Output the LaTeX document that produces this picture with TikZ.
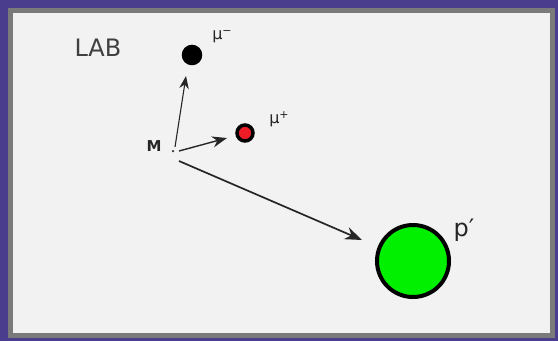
\documentclass[tikz,border=0pt]{standalone}
\usepackage{fontspec}
\setmainfont{DejaVu Sans}
\usepackage{tikz}
\usetikzlibrary{arrows.meta, positioning}

\definecolor{framepurple}{HTML}{4A3D8E}
\definecolor{framegray}{HTML}{7A7A7A}
\definecolor{paper}{HTML}{F1F2F1}
\definecolor{muplus}{HTML}{EE1C24}
\definecolor{proton}{HTML}{00F000}

\newcommand{\charge}[1]{\raisebox{0.55ex}{\fontsize{11}{11}\selectfont #1}}

\begin{document}
\begin{tikzpicture}[
    x=1pt, y=-1pt,
    font=\sffamily,
    >={Stealth[scale=1.6]},
    particle/.style={circle, draw=black, line width=3.5pt, inner sep=0pt},
    tag/.style={font=\fontsize{16}{16}\selectfont, text=black!85},
    arrow/.style={->, line width=1.4pt, black!85}
]

% Frame
\fill[framepurple] (0,0) rectangle (558,341);
\fill[framegray] (8,8) rectangle (555,338);
\fill[paper] (13,13) rectangle (550,333);
\useasboundingbox (0,0) rectangle (558,341);

% Nodes
\node[font=\fontsize{24}{24}\selectfont, text=black!75] (lab) at (98,48) {LAB};
\node[inner sep=0pt, minimum size=2.5pt, fill=black!80, circle] (m) at (173,151) {};
\node[tag, font=\fontsize{15}{15}\selectfont\bfseries] (mlabel) at (154,146) {M};

\node[particle, fill=black, minimum size=17pt] (muminus) at (192,55) {};
\node[tag] (muminuslabel) at (222,37) {μ\charge{−}};

\node[particle, fill=muplus, minimum size=16pt] (muplus) at (245,133) {};
\node[tag] (mupluslabel) at (279,119) {μ\charge{+}};

\node[particle, fill=proton, minimum size=72pt, line width=4pt] (p) at (413,261) {};
\node[tag, font=\fontsize{24}{24}\selectfont] (plabel) at (464,230) {p′};

% Arrows
\draw[arrow, line width=1.1pt] ([shift={(2,-4)}]m.center) -- ([shift={(-6,21)}]muminus.center);
\draw[arrow] ([shift={(6,0)}]m.center) -- ([shift={(-18,5)}]muplus.center);
\draw[arrow, line width=1.7pt] ([shift={(6,10)}]m.center) -- ([shift={(-51,-21)}]p.center);

\end{tikzpicture}
\end{document}
